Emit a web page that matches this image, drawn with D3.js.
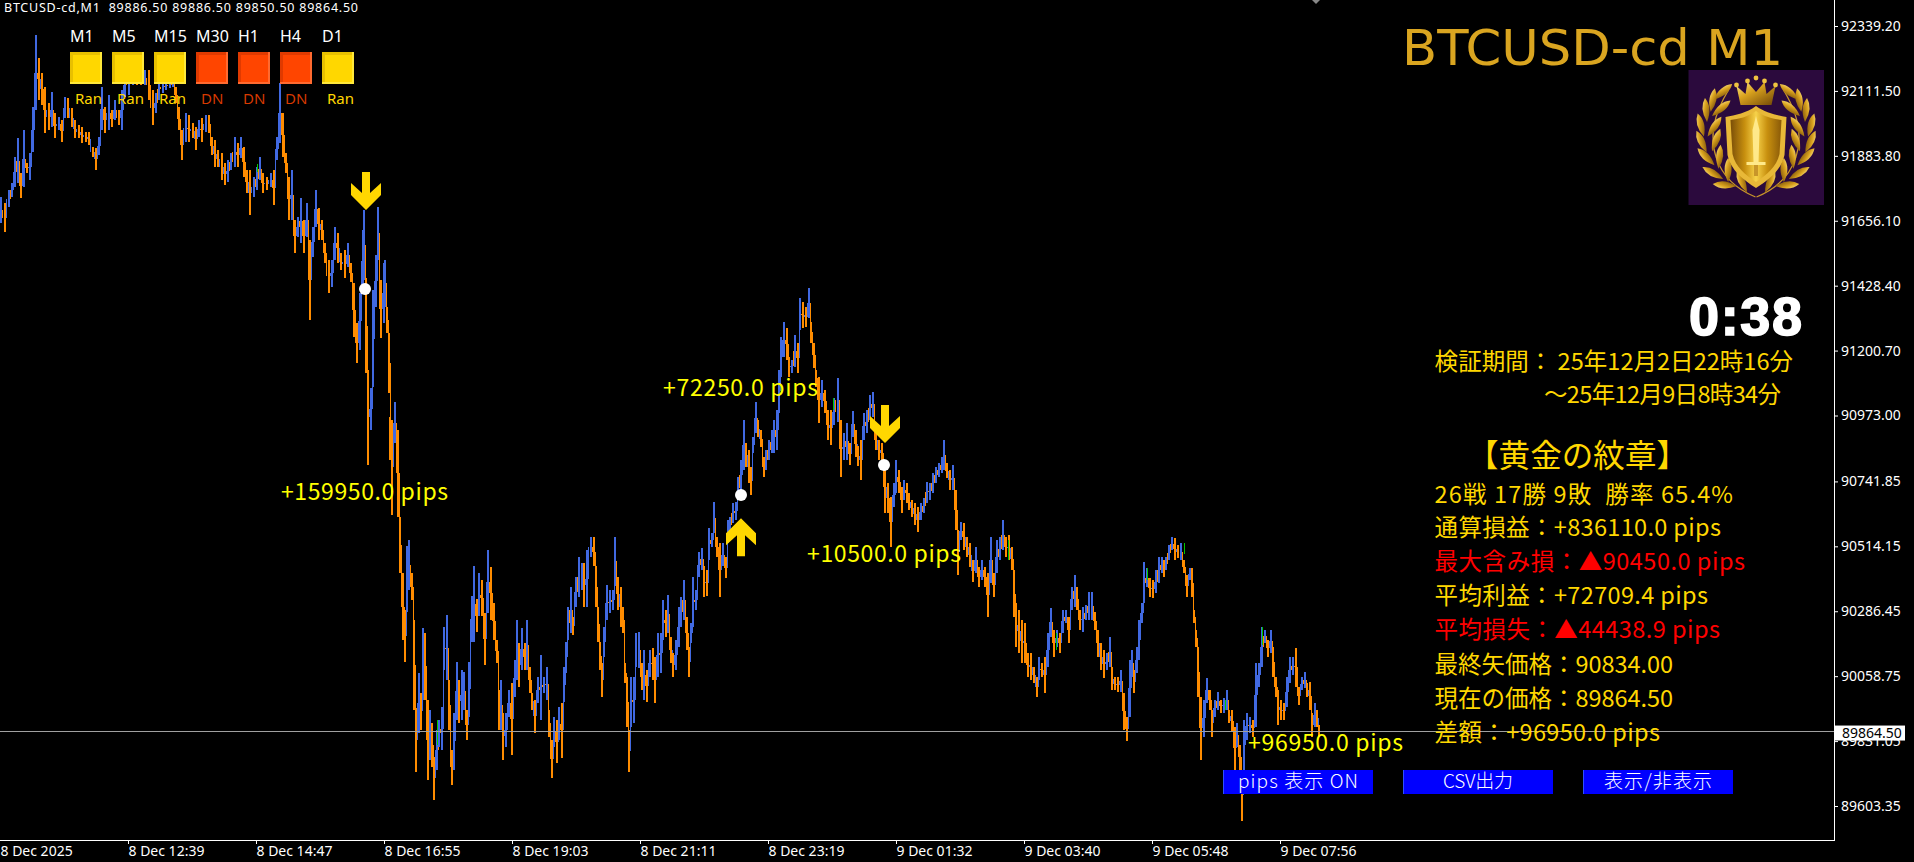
<!DOCTYPE html>
<html><head><meta charset="utf-8">
<script src="https://d3js.org/d3.v7.min.js"></script>
<style>html,body{margin:0;padding:0;background:#000;overflow:hidden}svg{display:block}</style>
</head><body><svg id="c" width="1914" height="862"></svg>
<script>
// ---------- data ----------
const priceTicks=[92339.20,92111.50,91883.80,91656.10,91428.40,91200.70,90973.00,90741.85,90514.15,90286.45,90058.75,89831.05,89603.35];
const timeTickMinutes=[0,128,256,384,512,640,768,896,1024,1152,1280];
const timeTickLabels=["8 Dec 2025","8 Dec 12:39","8 Dec 14:47","8 Dec 16:55","8 Dec 19:03","8 Dec 21:11","8 Dec 23:19","9 Dec 01:32","9 Dec 03:40","9 Dec 05:48","9 Dec 07:56"];
const currentPrice=89864.50;
const barMinutes=[0,4,8,11,14,17,20,23,26,29,32,35,38,41,44,48,51,54,58,61,64,67,71,74,78,81,85,88,92,95,98,101,104,108,111,114,118,121,124,128,132,136,140,144,148,152,155,158,162,165,169,172,175,178,181,185,188,192,195,198,201,205,208,211,214,217,221,224,227,230,234,237,240,243,246,249,253,256,259,262,266,270,273,276,279,282,285,288,291,294,297,300,303,306,309,312,315,318,321,324,328,331,334,337,340,344,347,350,353,356,359,362,363,365,367,370,372,375,377,380,383,384,386,388,389,391,394,397,399,402,404,406,408,411,413,415,418,420,422,424,427,429,431,433,436,438,441,443,446,448,451,453,456,458,461,463,466,468,471,473,476,478,481,484,487,490,493,496,498,500,502,505,508,511,514,516,518,521,524,526,529,531,534,537,540,543,546,548,551,553,556,558,561,563,565,567,570,572,575,578,581,583,586,590,593,595,597,599,601,603,606,609,612,614,617,620,622,624,626,628,630,633,635,638,641,643,646,649,652,654,657,660,662,665,667,670,672,675,678,680,683,686,688,690,692,695,698,701,703,706,708,711,713,716,719,722,725,727,729,732,735,737,740,743,745,748,750,752,755,757,760,763,765,768,771,773,776,778,780,783,786,788,791,794,797,799,802,805,808,810,813,815,818,821,824,827,830,833,837,840,843,846,849,852,855,857,860,863,866,869,872,875,878,881,884,887,890,893,895,898,901,903,906,908,911,914,917,920,923,926,929,932,935,938,941,943,946,949,952,955,957,960,963,966,969,972,975,978,981,984,987,990,993,996,999,1002,1005,1008,1011,1013,1015,1018,1021,1024,1027,1030,1033,1036,1038,1041,1044,1047,1050,1053,1056,1059,1062,1065,1068,1071,1074,1076,1079,1082,1085,1088,1091,1094,1097,1100,1103,1106,1109,1111,1114,1117,1120,1123,1126,1129,1131,1133,1136,1138,1141,1143,1146,1149,1152,1155,1158,1161,1163,1165,1168,1171,1174,1177,1180,1183,1186,1189,1191,1193,1195,1197,1200,1203,1206,1209,1211,1214,1217,1220,1223,1226,1228,1231,1234,1236,1239,1241,1243,1246,1249,1252,1255,1258,1261,1264,1267,1270,1272,1275,1277,1280,1283,1286,1289,1292,1295,1298,1301,1304,1306,1309,1311,1314,1316,1318];
const barHighs=[91739,91718,91764,91788,91879,91946,91823,91974,91858,91893,92055,92307,92227,92174,92125,92069,92107,92034,92020,92009,92090,92086,92051,92009,91992,91985,91967,91967,91914,91911,91950,92125,92055,92097,92044,92079,92044,92114,92174,92184,92248,92202,92184,92184,92184,92114,92104,92160,92143,92143,92143,92150,92125,92055,91974,92034,92027,91999,91985,92009,92016,92027,92027,91950,91939,91904,91893,91858,91869,91893,91950,91929,91950,91914,91834,91834,91809,91844,91879,91823,91809,91823,91834,91950,92139,92034,91893,91809,91834,91659,91670,91735,91659,91718,91589,91634,91764,91701,91659,91578,91519,91519,91634,91613,91543,91554,91578,91508,91438,91298,91403,91624,91694,91455,91133,91070,91413,91536,91704,91448,91508,91519,91354,91263,90968,90957,91020,90922,90618,90420,90291,90515,90536,90420,90256,89947,90070,90000,90228,90211,89975,89940,89895,89775,89870,89905,89950,90231,90273,90045,89800,89930,90109,90045,90080,90073,89940,90109,90340,90445,90329,90420,90396,90280,90501,90442,90315,90186,90010,90045,89930,89930,90010,90034,90116,90256,90175,90228,90175,90256,90091,90000,89975,90056,90133,90056,90091,89940,89835,89916,89905,89950,89965,90091,90179,90301,90371,90266,90406,90476,90455,90455,90501,90547,90547,90445,90301,90179,90105,90231,90378,90361,90361,90547,90406,90371,90301,90105,90056,89870,90056,90056,90210,90214,90105,90151,90080,90151,90158,90126,90210,90210,90326,90291,90343,90196,90140,90186,90301,90336,90396,90266,90161,90245,90406,90361,90494,90508,90445,90431,90578,90560,90670,90547,90525,90525,90476,90606,90617,90666,90670,90757,90817,90957,90876,90852,90792,90897,91020,90957,90922,90827,90852,90887,90922,90957,90992,91133,91249,91301,91280,91178,91168,91256,91228,91385,91371,91354,91420,91301,91228,91133,91108,91098,91063,90992,90992,91034,91105,90957,90911,90947,90876,90989,90922,90865,90887,90982,90992,91045,91056,90922,90887,90876,90817,90736,90687,90736,90817,90782,90722,90747,90736,90701,90677,90666,90652,90666,90684,90740,90736,90771,90792,90806,90827,90887,90806,90782,90799,90712,90572,90600,90596,90547,90525,90466,90511,90442,90466,90442,90420,90547,90420,90536,90547,90606,90547,90554,90511,90431,90315,90291,90256,90245,90140,90140,90091,90056,90126,90105,90126,90210,90298,90221,90221,90210,90291,90291,90266,90371,90413,90371,90291,90301,90308,90354,90354,90284,90221,90175,90151,90140,90196,90091,90056,90056,90080,90000,89916,90116,90151,90080,90161,90256,90315,90459,90438,90403,90396,90431,90476,90476,90466,90476,90518,90547,90543,90518,90525,90466,90413,90438,90438,90291,90221,90161,89986,89975,90052,90010,89940,89975,90003,89975,89982,90010,89940,89940,89881,89895,89818,89730,89905,89930,89916,89905,90105,90105,90231,90221,90186,90221,90161,90056,90010,89975,89965,90056,90126,90126,90158,90021,90056,90073,90035,90038,89930,89965,89940,89888];
const barLows=[91648,91616,91704,91739,91774,91788,91735,91774,91823,91799,91897,92044,92079,92062,91964,91974,91985,91946,91974,91932,92016,92016,91985,91946,91946,91929,91932,91921,91879,91834,91886,91974,91964,91974,91985,92009,91992,91974,92090,92097,92132,92132,92132,92132,92079,91992,92034,92079,92104,92114,92121,92125,92069,91974,91869,91932,91932,91946,91904,91950,91932,91967,91964,91886,91844,91844,91799,91781,91792,91834,91844,91844,91876,91809,91753,91676,91739,91764,91799,91753,91764,91774,91711,91869,91929,91879,91823,91659,91659,91543,91600,91578,91543,91600,91308,91529,91634,91589,91589,91508,91403,91424,91519,91508,91483,91456,91494,91441,91249,91158,91203,91403,91448,91122,90800,90922,91073,91354,91519,91245,91298,91354,91263,91052,90817,90625,90876,90618,90420,90186,90109,90284,90361,90326,89941,89722,89859,89870,89975,89975,89695,89765,89740,89625,89730,89811,89800,90080,90045,89870,89677,89730,89905,89895,89905,89940,89835,89916,90179,90179,90214,90270,90270,90098,90280,90256,90186,90105,89870,89870,89765,89811,89916,89782,89986,90045,90021,90080,90080,90080,90000,89940,89860,89965,89905,90000,89975,89846,89702,89811,89754,89835,89772,89968,90070,90186,90210,90203,90301,90336,90361,90301,90301,90476,90445,90301,90179,90080,89986,90126,90256,90280,90291,90375,90291,90231,90210,90035,89880,89722,89880,89895,90091,90088,90010,89975,89968,90056,90045,89965,90056,90070,90186,90196,90210,90105,90056,90080,90161,90231,90256,90151,90056,90175,90231,90291,90406,90431,90336,90340,90466,90511,90560,90476,90336,90445,90403,90525,90560,90596,90606,90677,90712,90782,90792,90736,90694,90841,90911,90897,90862,90757,90782,90817,90841,90841,90852,90982,91108,91178,91168,91108,91122,91143,91122,91273,91280,91284,91315,91228,91140,91073,90947,91003,90982,90887,90869,90940,90950,90757,90817,90817,90799,90897,90827,90795,90747,90887,90911,90957,90968,90852,90817,90806,90630,90630,90511,90652,90701,90701,90630,90677,90666,90641,90617,90589,90564,90606,90630,90666,90677,90701,90736,90757,90771,90782,90753,90712,90712,90572,90414,90536,90501,90476,90442,90389,90420,90371,90396,90371,90266,90385,90336,90420,90466,90501,90476,90466,90431,90266,90161,90140,90105,90105,90056,90045,90035,89986,90045,90056,90000,90091,90196,90126,90161,90140,90210,90245,90175,90291,90301,90291,90221,90214,90256,90256,90256,90221,90126,90080,90052,90080,90091,90010,90010,90003,90003,89870,89830,89916,90056,90000,90070,90116,90245,90315,90371,90336,90333,90350,90385,90420,90406,90431,90466,90501,90466,90472,90466,90420,90336,90396,90336,90245,90161,89986,89765,89846,89965,89940,89846,89916,89940,89930,89930,89940,89895,89863,89730,89811,89730,89552,89730,89835,89860,89846,89881,90021,90091,90175,90126,90140,90056,89986,89888,89905,89905,89950,90035,90063,90021,89958,90010,90017,89986,89940,89846,89881,89881,89846];
const dojiMinutes=[257,437,833,1008,1056,1147,1184,1225,1262];
const dojiHighs=[91855,89905,91034,90536,90210,90438,90525,89975,90231];
const dojiLows=[91827,89817,90992,90466,90151,90396,90487,89940,90168];
const arrowMinutes=[366,741,885];
const arrowPrices=[91694,90613,90877];
const arrowDirs=["down","up","down"];
const entryMinutes=[365,741,884];
const entryPrices=[91417,90694,90799];
const pipsLabels=["+159950.0 pips","+72250.0 pips","+10500.0 pips","+96950.0 pips"];
const tfNames=["M1","M5","M15","M30","H1","H4","D1"];
const tfStates=["Ran","Ran","Ran","DN","DN","DN","Ran"];
const buttonLabels=["pips 表示 ON","CSV出力","表示/非表示"];
const headerText="BTCUSD-cd,M1  89886.50 89886.50 89850.50 89864.50";
const titleText="BTCUSD-cd M1";
const clockText="0:38";
const infoLines=[
 {t:"検証期間： 25年12月2日22時16分",c:"#FFD700",x:1434.6,e:1793,y:370,s:23.5},
 {t:"～25年12月9日8時34分",c:"#FFD700",x:1544,e:1781,y:403,s:23.5},
 {t:"【黄金の紋章】",c:"#FFD700",x:1467,e:1688,y:467,s:31.5},
 {t:"26戦 17勝 9敗  勝率 65.4%",c:"#FFD700",x:1434.6,e:1733,y:503,s:23.5},
 {t:"通算損益：+836110.0 pips",c:"#FFD700",x:1434.6,e:1721,y:536,s:23.5},
 {t:"最大含み損：▲90450.0 pips",c:"#FF0000",x:1434.6,e:1745,y:570,s:23.5},
 {t:"平均利益：+72709.4 pips",c:"#FFD700",x:1434.6,e:1708,y:604,s:23.5},
 {t:"平均損失：▲44438.9 pips",c:"#FF0000",x:1434.6,e:1720,y:638,s:23.5},
 {t:"最終矢価格：90834.00",c:"#FFD700",x:1434.6,e:1673,y:673,s:23.5},
 {t:"現在の価格：89864.50",c:"#FFD700",x:1434.6,e:1673,y:707,s:23.5},
 {t:"差額：+96950.0 pips",c:"#FFD700",x:1434.6,e:1660,y:741,s:23.5}
];
// ---------- layout ----------
const W=1914,H=862,plotR=1834,plotB=840;
const cjk='"Noto Sans CJK JP","Noto Sans",sans-serif', ui='"Noto Sans","DejaVu Sans",sans-serif';
const svg=d3.select("#c");
svg.append("rect").attr("width",W).attr("height",H).attr("fill","#000");
const x=d3.scaleLinear().domain([0,1280]).range([0,1280]);
const y=d3.scaleLinear().domain([92339.20,89603.35]).range([26,806]);
// bars
const BLUE="#4169E1",ORANGE="#FF8C00",GREEN="#00C800";
const mid=i=>(barHighs[i]+barLows[i])/2;
const isUp=i=>i===0||mid(i)>=mid(i-1);
const barG=svg.append("g").attr("shape-rendering","crispEdges");
// 1px run from each bar's middle to the next bar's middle: keeps the trace continuous
barG.selectAll("line.j").data(barMinutes.slice(0,-1)).join("line").attr("class","j")
 .attr("x1",d=>Math.round(x(d))+2.5).attr("x2",d=>Math.round(x(d))+2.5)
 .attr("y1",(d,i)=>y(mid(i))).attr("y2",(d,i)=>y(mid(i+1)))
 .attr("stroke",(d,i)=>{const up=mid(i+1)>=mid(i),small=Math.abs(mid(i+1)-mid(i))<60;return small?(isUp(i)?ORANGE:BLUE):(up?BLUE:ORANGE);}).attr("stroke-width",1);
barG.selectAll("line.b").data(barMinutes).join("line").attr("class","b")
 .attr("x1",d=>Math.round(x(d))+1).attr("x2",d=>Math.round(x(d))+1)
 .attr("y1",(d,i)=>y(barHighs[i])).attr("y2",(d,i)=>y(barLows[i]))
 .attr("stroke",(d,i)=>isUp(i)?BLUE:ORANGE).attr("stroke-width",2);
barG.selectAll("line.d").data(dojiMinutes).join("line").attr("class","d")
 .attr("x1",d=>x(d)+.5).attr("x2",d=>x(d)+.5)
 .attr("y1",(d,i)=>y(dojiHighs[i])).attr("y2",(d,i)=>y(dojiLows[i]))
 .attr("stroke",GREEN).attr("stroke-width",1);
// current price line
const cy=Math.floor(y(currentPrice))+.5;
svg.append("line").attr("x1",0).attr("x2",plotR).attr("y1",cy).attr("y2",cy).attr("stroke","#A0A0A0").attr("stroke-width",1);
// axes
const axY=svg.append("g").attr("transform",`translate(${plotR},0)`).call(d3.axisRight(y).tickValues(priceTicks).tickFormat(d3.format(".2f")).tickSize(4).tickPadding(3));
const axX=svg.append("g").attr("transform",`translate(0,${plotB})`).call(d3.axisBottom(x).tickValues(timeTickMinutes).tickFormat((d,i)=>timeTickLabels[i]).tickSize(4).tickPadding(2));
[axY,axX].forEach(a=>{a.selectAll("text").attr("fill","#fff").attr("font-family",ui).attr("font-size",14);a.selectAll("line").attr("stroke","#fff");a.select(".domain").remove();});
axX.selectAll("text").attr("text-anchor","start").attr("dx",0);
axX.selectAll(".tick line").filter((d)=>d===0).remove();
svg.append("line").attr("x1",plotR+.5).attr("x2",plotR+.5).attr("y1",0).attr("y2",plotB).attr("stroke","#fff");
svg.append("line").attr("x1",0).attr("x2",plotR+1).attr("y1",plotB+.5).attr("y2",plotB+.5).attr("stroke","#fff");
// price tag
svg.append("rect").attr("x",plotR+1).attr("y",y(currentPrice)-6).attr("width",70).attr("height",15).attr("fill","#fff");
svg.append("text").attr("x",plotR+8).attr("y",y(currentPrice)+6).attr("fill","#000").attr("font-family",ui).attr("font-size",14).text(d3.format(".2f")(currentPrice));
// small mark on top edge
svg.append("path").attr("d","M1312,0L1320,0L1316,4Z").attr("fill","#888");
// header + title
svg.append("text").attr("x",4).attr("y",12).attr("fill","#fff").attr("font-family",ui).attr("font-size",12.5).attr("textLength",354).style("white-space","pre").text(headerText);
svg.append("text").attr("x",1402).attr("y",65).attr("fill","#DAA520").attr("font-family",'"DejaVu Sans",sans-serif').attr("font-size",49).attr("textLength",381).attr("lengthAdjust","spacingAndGlyphs").text(titleText);
// timeframe panels
const tfx=d3.scaleBand().domain(tfNames).range([70,364]);
tfNames.forEach((n,i)=>{
 const X=tfx(n),isDn=tfStates[i]==="DN";
 const g=svg.append("g").attr("transform",`translate(${X},52)`).attr("shape-rendering","crispEdges");
 const base=isDn?"#FF4500":"#FFD700",dk=isDn?"#E03A00":"#E8C000",lt=isDn?"#FF6A30":"#FFE83A";
 g.append("rect").attr("width",32).attr("height",32).attr("fill",base);
 g.append("rect").attr("width",32).attr("height",3).attr("fill",dk);
 g.append("rect").attr("width",3).attr("height",32).attr("fill",dk);
 g.append("rect").attr("y",30).attr("width",32).attr("height",2).attr("fill",lt);
 g.append("rect").attr("x",30).attr("width",2).attr("height",32).attr("fill",lt);
 svg.append("text").attr("x",X).attr("y",42).attr("fill","#fff").attr("font-family",ui).attr("font-size",16).text(n);
 svg.append("text").attr("x",X+5).attr("y",104).attr("fill",isDn?"#D83A00":"#FFD700").attr("font-family",ui).attr("font-size",15).text(tfStates[i]);
});
// arrows
const arrowG=svg.append("g");
arrowMinutes.forEach((m,i)=>{
 const s=arrowDirs[i]==="down"?1:-1, ax=x(m), ay=y(arrowPrices[i]);
 const pts=[[0,0],[15,-15*s],[15,-27*s],[4,-17*s],[4,-38*s],[-4,-38*s],[-4,-17*s],[-15,-27*s],[-15,-15*s]];
 arrowG.append("polygon").attr("points",pts.map(p=>[ax+p[0],ay+p[1]].join(",")).join(" ")).attr("fill","#FFD700");
});
svg.append("g").selectAll("circle").data(entryMinutes).join("circle").attr("cx",d=>x(d)).attr("cy",(d,i)=>y(entryPrices[i])).attr("r",6).attr("fill","#fff");
// pips labels
const pipsPos=[[281,500,167],[663,396,155],[807,562,154],[1248,751,155]];
pipsLabels.forEach((t,i)=>{svg.append("text").attr("x",pipsPos[i][0]).attr("y",pipsPos[i][1]).attr("fill","#FFFF00").attr("font-family",cjk).attr("font-size",23).attr("textLength",pipsPos[i][2]).text(t);});
// clock
svg.append("text").attr("x",1689).attr("y",335).attr("fill","#fff").attr("stroke","#fff").attr("stroke-width",1.6).attr("font-family",'"Liberation Sans",sans-serif').attr("font-weight",700).attr("font-size",54).attr("textLength",113).text(clockText);
// info rows
infoLines.forEach(d=>{svg.append("text").attr("x",d.x).attr("y",d.y).attr("fill",d.c).attr("font-family",cjk).attr("font-size",d.s).attr("textLength",d.e-d.x).style("white-space","pre").text(d.t);});
// buttons
const btnX=[1223,1403,1583],btnTextW=[120,70,108];
buttonLabels.forEach((t,i)=>{
 svg.append("rect").attr("x",btnX[i]).attr("y",770).attr("width",150).attr("height",24).attr("fill","#0000FF");
 svg.append("rect").attr("x",btnX[i]).attr("y",770).attr("width",1).attr("height",24).attr("fill","#3050FF");
 svg.append("text").attr("x",btnX[i]+75-btnTextW[i]/2).attr("y",788).attr("fill","#fff").attr("font-family",cjk).attr("font-weight",300).attr("font-size",19).attr("textLength",btnTextW[i]).text(t);
});
// emblem
const defs=svg.append("defs");
const lg=defs.append("linearGradient").attr("id","gold").attr("x1",0).attr("y1",0).attr("x2",1).attr("y2",1);
[["0%","#FFE98A"],["40%","#D9A21E"],["100%","#6E4506"]].forEach(s=>lg.append("stop").attr("offset",s[0]).attr("stop-color",s[1]));
const lg2=defs.append("linearGradient").attr("id","sh").attr("x1",0).attr("y1",0).attr("x2",1).attr("y2",0);
[["0%","#7A4E08"],["28%","#C8900F"],["50%","#F7D24A"],["72%","#C8900F"],["100%","#8A5A08"]].forEach(s=>lg2.append("stop").attr("offset",s[0]).attr("stop-color",s[1]));
const em=svg.append("g").attr("transform","translate(1688.5,70)");
em.append("rect").attr("width",135.5).attr("height",135).attr("fill","#2B0A3D");
const leaves=[[34.5,21.7,50],[24.3,30,10],[32.8,38.3,50],[17.5,40,-5],[26,56.7,35],[12.3,55,-15],[27.7,70,20],[13,71.7,-25],[17.5,86.7,-45],[31.1,86.7,5],[24.3,103,-60],[39.6,100,0],[36.2,115,-85],[53.3,111.7,-25]];
[1,-1].forEach(m=>{
 const g=em.append("g").attr("transform",m===1?"":"translate(135,0) scale(-1,1)");
 g.append("path").attr("d","M67,127C30,112 8,72 40,20").attr("fill","none").attr("stroke","#C8962A").attr("stroke-width",1.3);
 leaves.forEach(l=>g.append("path").attr("d","M0,-12Q7,-2 0,12Q-7,-2 0,-12Z").attr("transform",`translate(${l[0]},${l[1]}) rotate(${l[2]})`).attr("fill","url(#gold)"));
});
em.append("path").attr("d","M67.5,36C58,43 47,45 37,47L39,85C42,100 55,110 67.5,118C80,110 93,100 96,85L98,47C88,45 77,43 67.5,36Z").attr("fill","#E8B838");
em.append("path").attr("d","M67.5,41C59,47 50,49 42,50L44,84C47,97 57,105 67.5,112C78,105 88,97 91,84L93,50C85,49 76,47 67.5,41Z").attr("fill","url(#sh)");
em.append("path").attr("d","M67.5,46L71,60L70,92L65,92L64,60Z").attr("fill","#FFE98A");
em.append("rect").attr("x",58).attr("y",92).attr("width",19).attr("height",3).attr("fill","#FFE98A");
em.append("rect").attr("x",65.5).attr("y",95).attr("width",4).attr("height",11).attr("fill","#C8962A");
em.append("path").attr("d","M48,16L57,24L59,12L67.5,22L76,12L78,24L87,16L83,35L52,35Z").attr("fill","url(#gold)");
[[48,15],[59,11],[67.5,8],[76,11],[87,15]].forEach(p=>em.append("circle").attr("cx",p[0]).attr("cy",p[1]).attr("r",2.4).attr("fill","#F0C440"));
</script></body></html>
